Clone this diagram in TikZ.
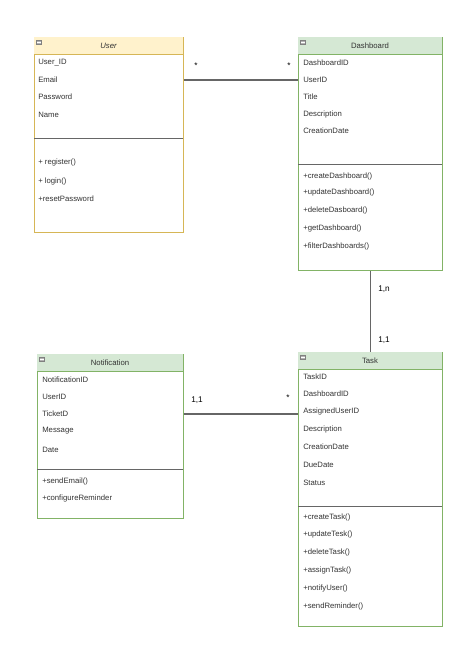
\documentclass[tikz,border=0pt]{standalone}
\usepackage[dvipsnames]{xcolor}
\usepackage{fontspec}
\setmainfont{Liberation Sans}
\usepackage{tikz}
\usetikzlibrary{calc}

\definecolor{ylwfill}{HTML}{FFF2CC}
\definecolor{ylwline}{HTML}{D6B656}
\definecolor{grnfill}{HTML}{D5E8D4}
\definecolor{grnline}{HTML}{82B366}
\definecolor{txtgray}{HTML}{333333}
\definecolor{lnkgray}{HTML}{666666}

\begin{document}
\begin{tikzpicture}[x=0.75pt,y=0.75pt,yscale=-1,
    attr/.style={anchor=west,inner sep=0.75pt,text=txtgray,font=\fontsize{5.8}{7}\selectfont},
    ttl/.style={inner sep=0.75pt,text=txtgray,font=\fontsize{5.8}{7}\selectfont},
    mult/.style={inner sep=0.75pt,text=black,font=\fontsize{6.2}{7}\selectfont},
    box/.style={draw,fill=white,line width=0.6pt,anchor=north west,inner sep=0pt},
    sepline/.style={draw=lnkgray,line width=0.7pt},
    link/.style={draw=lnkgray,line width=0.8pt},
    minus/.style={draw=gray,fill=gray!60,line width=0.3pt}]
\useasboundingbox (0,0) rectangle (467,658);

%Shape: Class [User]
\node [box,draw=ylwline,minimum width=0.75pt*149,minimum height=0.75pt*195] (user) at (34,37) {};
\fill [ylwfill] (34.4,37.4) rectangle (182.6,54);
\draw [ylwline,line width=0.6pt] (34,54) -- (183,54);
\draw [minus] (36.5,40.5) rectangle (41.5,44.5);
\draw [white,line width=0.5pt] (37.3,42.5) -- (40.7,42.5);
\draw [sepline] (34,138) -- (183,138);

% Text Node
\draw (108.5,46) node [ttl,font=\fontsize{5.8}{7}\selectfont\itshape] (usertitle) {User};
\draw (37,63) node [attr] (u1) {User\_ID};
\draw (37,80) node [attr] (u2) {Email};
\draw (37,97) node [attr] (u3) {Password};
\draw (37,115) node [attr] (u4) {Name};
\draw (37,162) node [attr] (u5) {+ register()};
\draw (37,181) node [attr] (u6) {+ login()};
\draw (37,199) node [attr] (u7) {+resetPassword};

%Shape: Class [Dashboard]
\node [box,draw=grnline,minimum width=0.75pt*144,minimum height=0.75pt*233] (dash) at (298,37) {};
\fill [grnfill] (298.4,37.4) rectangle (441.6,54);
\draw [grnline,line width=0.6pt] (298,54) -- (442,54);
\draw [minus] (300.5,40.5) rectangle (305.5,44.5);
\draw [white,line width=0.5pt] (301.3,42.5) -- (304.7,42.5);
\draw [sepline] (298,164) -- (442,164);

% Text Node
\draw (370,46) node [ttl] (dashtitle) {Dashboard};
\draw (302,63) node [attr] (d1) {DashboardID};
\draw (302,80) node [attr] (d2) {UserID};
\draw (302,97) node [attr] (d3) {Title};
\draw (302,114) node [attr] (d4) {Description};
\draw (302,131) node [attr] (d5) {CreationDate};
\draw (302,176) node [attr] (d6) {+createDashboard()};
\draw (302,192) node [attr] (d7) {+updateDashboard()};
\draw (302,210) node [attr] (d8) {+deleteDasboard()};
\draw (302,228) node [attr] (d9) {+getDashboard()};
\draw (302,246) node [attr] (d10) {+filterDashboards()};

%Shape: Class [Notification]
\node [box,draw=grnline,minimum width=0.75pt*146,minimum height=0.75pt*164] (notif) at (37,354) {};
\fill [grnfill] (37.4,354.4) rectangle (182.6,371);
\draw [grnline,line width=0.6pt] (37,371) -- (183,371);
\draw [minus] (39.5,357.5) rectangle (44.5,361.5);
\draw [white,line width=0.5pt] (40.3,359.5) -- (43.7,359.5);
\draw [sepline] (37,469) -- (183,469);

% Text Node
\draw (110,363) node [ttl] (notiftitle) {Notification};
\draw (41,380) node [attr] (n1) {NotificationID};
\draw (41,397) node [attr] (n2) {UserID};
\draw (41,414) node [attr] (n3) {TicketD};
\draw (41,431) node [attr] (n4) {Message};
\draw (41,450) node [attr] (n5) {Date};
\draw (41,481) node [attr] (n6) {+sendEmail()};
\draw (41,498) node [attr] (n7) {+configureReminder};

%Shape: Class [Task]
\node [box,draw=grnline,minimum width=0.75pt*144,minimum height=0.75pt*274] (task) at (298,352) {};
\fill [grnfill] (298.4,352.4) rectangle (441.6,369);
\draw [grnline,line width=0.6pt] (298,369) -- (442,369);
\draw [minus] (300.5,355.5) rectangle (305.5,359.5);
\draw [white,line width=0.5pt] (301.3,357.5) -- (304.7,357.5);
\draw [sepline] (298,506) -- (442,506);

% Text Node
\draw (370,360.5) node [ttl] (tasktitle) {Task};
\draw (302,377) node [attr] (t1) {TaskID};
\draw (302,394) node [attr] (t2) {DashboardID};
\draw (302,411) node [attr] (t3) {AssignedUserID};
\draw (302,429) node [attr] (t4) {Description};
\draw (302,447) node [attr] (t5) {CreationDate};
\draw (302,465) node [attr] (t6) {DueDate};
\draw (302,483) node [attr] (t7) {Status};
\draw (302,517) node [attr] (t8) {+createTask()};
\draw (302,534) node [attr] (t9) {+updateTesk()};
\draw (302,552) node [attr] (t10) {+deleteTask()};
\draw (302,570) node [attr] (t11) {+assignTask()};
\draw (302,588) node [attr] (t12) {+notifyUser()};
\draw (302,606) node [attr] (t13) {+sendReminder()};

%Connectors
\draw [link] (user.east |- d2.west) -- (dash.west |- d2.west);
\draw [link] (dash.south) -- (task.north);
\draw [link] (notif.east |- n3.west) -- (task.west |- n3.west);

% Multiplicity labels
\draw (196,66) node [mult] (m1) {*};
\draw (289,66) node [mult] (m2) {*};
\draw (384,289) node [mult] (m3) {1,n};
\draw (384,340) node [mult] (m4) {1,1};
\draw (197,400) node [mult] (m5) {1,1};
\draw (288,398) node [mult] (m6) {*};
\end{tikzpicture}
\end{document}
